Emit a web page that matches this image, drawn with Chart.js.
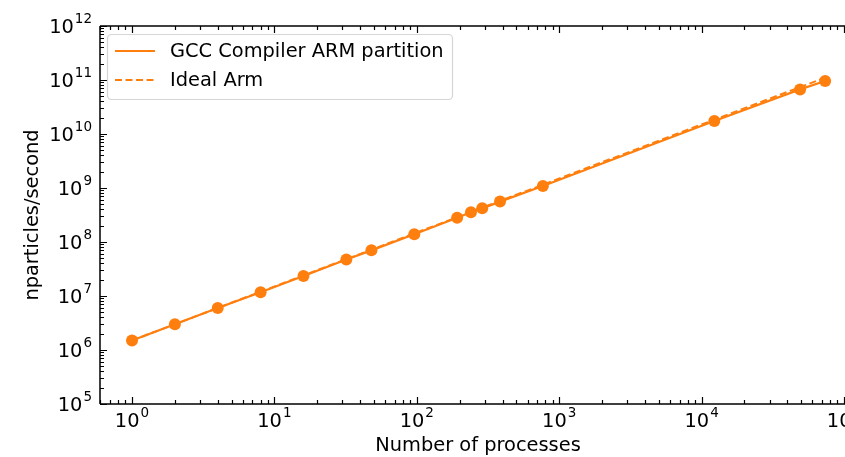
<!DOCTYPE html>
<html>
<head>
<meta charset="utf-8">
<script src="https://cdn.jsdelivr.net/npm/chart.js@4.4.0/dist/chart.umd.min.js"></script>
<style>
  html, body { margin: 0; padding: 0; background: #fff; }
</style>
</head>
<body>
<canvas id="scalingChart" width="845" height="457"></canvas>
<script>
// Data
const processes = [1, 2, 4, 8, 16, 32, 48, 96, 192, 240, 288, 384, 768, 12288, 49152, 73728];
const gccArm = [1.5e6, 3.0e6, 6.0e6, 1.17e7, 2.35e7, 4.75e7, 7.0e7, 1.39e8, 2.82e8, 3.55e8,
                4.2e8, 5.6e8, 1.09e9, 1.74e10, 6.7e10, 9.6e10];
const idealArm = [1.5e6, 3.0e6, 6.0e6, 1.2e7, 2.4e7, 4.8e7, 7.2e7, 1.44e8, 2.88e8, 3.6e8,
                  4.32e8, 5.76e8, 1.152e9, 1.843e10, 7.373e10, 1.106e11];
const xTickExponents = [0, 1, 2, 3, 4, 5];
const yTickExponents = [5, 6, 7, 8, 9, 10, 11, 12];
const seriesLabels = ['GCC Compiler ARM partition', 'Ideal Arm'];

const ORANGE = '#ff7f0e';
const FONT = '"DejaVu Sans", sans-serif';
const SIZE = '19.4px ';

// draw "10^n" as base + raised exponent
function drawPow(ctx, exp, x, y, align) {
    ctx.font = SIZE + FONT;
    const wBase = ctx.measureText('10').width;
    ctx.font = '13.5px ' + FONT;
    const wExp = ctx.measureText(String(exp)).width;
    const total = wBase + wExp + 1;
    let start = align === 'right' ? x - total : x - total / 2;
    ctx.textAlign = 'left';
    ctx.textBaseline = 'alphabetic';
    ctx.fillStyle = '#000';
    ctx.font = SIZE + FONT;
    ctx.fillText('10', start, y);
    ctx.font = '13.5px ' + FONT;
    ctx.fillText(String(exp), start + wBase + 1, y - 10);
}

const axesDecor = {
    id: 'axesDecor',
    afterDatasetsDraw(chart) {
        const ctx = chart.ctx;
        const a = chart.chartArea;
        const xs = chart.scales.x, ys = chart.scales.y;
        ctx.save();
        ctx.strokeStyle = '#000';
        ctx.lineWidth = 1.5;

        // spines (right one is off the picture)
        ctx.beginPath();
        ctx.moveTo(a.left, a.top); ctx.lineTo(a.right + 2, a.top);
        ctx.moveTo(a.left, a.top); ctx.lineTo(a.left, a.bottom);
        ctx.moveTo(a.left, a.bottom); ctx.lineTo(a.right + 2, a.bottom);
        ctx.stroke();

        // inward ticks
        ctx.lineWidth = 1.2;
        ctx.beginPath();
        for (let e = -1; e <= 5; e++) {
            for (let m = 1; m <= 9; m++) {
                const v = m * Math.pow(10, e);
                if (v < xs.min || v > xs.max) continue;
                const px = Math.round(xs.getPixelForValue(v)) + 0.5;
                const len = m === 1 ? 7 : 4;
                ctx.moveTo(px, a.bottom); ctx.lineTo(px, a.bottom - len);
                ctx.moveTo(px, a.top); ctx.lineTo(px, a.top + len);
            }
        }
        for (let e = 5; e <= 12; e++) {
            for (let m = 1; m <= 9; m++) {
                const v = m * Math.pow(10, e);
                if (v < ys.min || v > ys.max) continue;
                const py = Math.round(ys.getPixelForValue(v)) + 0.5;
                const len = m === 1 ? 7 : 4;
                ctx.moveTo(a.left, py); ctx.lineTo(a.left + len, py);
            }
        }
        ctx.stroke();

        // tick labels
        xTickExponents.forEach(e => {
            drawPow(ctx, e, xs.getPixelForValue(Math.pow(10, e)), a.bottom + 23, 'center');
        });
        yTickExponents.forEach(e => {
            drawPow(ctx, e, a.left - 8, ys.getPixelForValue(Math.pow(10, e)) + 7, 'right');
        });

        // axis titles
        ctx.font = SIZE + FONT;
        ctx.fillStyle = '#000';
        ctx.textAlign = 'center';
        ctx.textBaseline = 'middle';
        ctx.fillText('Number of processes', 478, 446);
        ctx.save();
        ctx.translate(33, (a.top + a.bottom) / 2);
        ctx.rotate(-Math.PI / 2);
        ctx.fillText('nparticles/second', 0, 0);
        ctx.restore();

        // legend box
        const bx = 107.5, by = 34.5, bw = 345, bh = 65, r = 4;
        ctx.beginPath();
        ctx.moveTo(bx + r, by);
        ctx.arcTo(bx + bw, by, bx + bw, by + bh, r);
        ctx.arcTo(bx + bw, by + bh, bx, by + bh, r);
        ctx.arcTo(bx, by + bh, bx, by, r);
        ctx.arcTo(bx, by, bx + bw, by, r);
        ctx.closePath();
        ctx.fillStyle = 'rgba(255,255,255,0.8)';
        ctx.fill();
        ctx.strokeStyle = '#d6d6d6';
        ctx.lineWidth = 1.2;
        ctx.stroke();

        const rows = [51, 80];
        rows.forEach((ry, i) => {
            ctx.strokeStyle = ORANGE;
            ctx.lineWidth = 2;
            ctx.setLineDash(i === 1 ? [7, 3.5] : []);
            ctx.beginPath();
            ctx.moveTo(115, ry); ctx.lineTo(155, ry);
            ctx.stroke();
            ctx.setLineDash([]);
            ctx.fillStyle = '#000';
            ctx.font = SIZE + FONT;
            ctx.textAlign = 'left';
            ctx.textBaseline = 'middle';
            ctx.fillText(seriesLabels[i], 170, ry + 1);
        });
        ctx.restore();
    }
};

const ctx = document.getElementById('scalingChart').getContext('2d');
const scalingChart = new Chart(ctx, {
    type: 'line',
    data: {
        datasets: [{
            label: seriesLabels[0],
            data: processes.map((p, i) => ({ x: p, y: gccArm[i] })),
            borderColor: ORANGE,
            backgroundColor: ORANGE,
            borderWidth: 2.2,
            pointRadius: 6,
            pointBorderWidth: 0,
            pointBackgroundColor: ORANGE,
            tension: 0,
            fill: false
        }, {
            label: seriesLabels[1],
            data: processes.map((p, i) => ({ x: p, y: idealArm[i] })),
            borderColor: ORANGE,
            borderWidth: 2,
            borderDash: [7, 3.5],
            pointRadius: 0,
            tension: 0,
            fill: false
        }]
    },
    plugins: [axesDecor],
    options: {
        responsive: false,
        animation: false,
        devicePixelRatio: 1,
        layout: { autoPadding: false, padding: { left: 100, top: 26, right: 1, bottom: 53 } },
        plugins: {
            legend: { display: false },
            tooltip: { enabled: false }
        },
        scales: {
            x: {
                type: 'logarithmic',
                display: false,
                min: 0.596,
                max: 1e5
            },
            y: {
                type: 'logarithmic',
                display: false,
                min: 1e5,
                max: 1e12
            }
        }
    }
});
</script>
</body>
</html>
